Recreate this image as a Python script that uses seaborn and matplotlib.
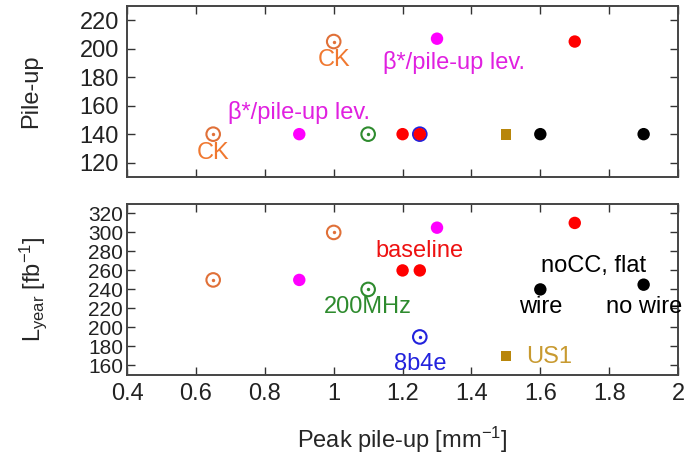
import pandas as pd
import matplotlib
matplotlib.use("Agg")
import matplotlib.pyplot as plt
import seaborn as sns

# ----- data -------------------------------------------------------------
# one entry per scenario: peak pile-up density, pile-up, integrated lumi/year
ck_x, ck_pu, ck_ly = [0.65, 1.0], [140, 205], [250, 300]
beta_x, beta_pu, beta_ly = [0.9, 1.3], [140, 207], [250, 305]
mhz_x, mhz_pu, mhz_ly = [1.1], [140], [240]
b4e_x, b4e_pu, b4e_ly = [1.25], [140], [190]
base_x, base_pu, base_ly = [1.2, 1.25, 1.7], [140, 140, 205], [260, 260, 310]
us1_x, us1_pu, us1_ly = [1.5], [140], [170]
nocc_x, nocc_pu, nocc_ly = [1.6, 1.9], [140, 140], [240, 245]

# labels: text, x, y, colour
top_labels = [
    ("CK", 0.65, 127, "#f07830"),
    ("CK", 1.0, 192, "#f07830"),
    ("β*/pile-up lev.", 0.9, 155, "#e020e0"),
    ("β*/pile-up lev.", 1.35, 190, "#e020e0"),
]
bottom_labels = [
    ("baseline", 1.25, 280, "#ee1111"),
    ("200MHz", 1.1, 221, "#2e8b2e"),
    ("8b4e", 1.25, 162, "#2222dd"),
    ("wire", 1.6, 222, "black"),
    ("no wire", 1.9, 222, "black"),
    ("noCC, flat", 1.755, 265, "black"),
]

sns.set_theme(style="ticks")
plt.rcParams["font.family"] = ["Liberation Sans", "DejaVu Sans"]
plt.rcParams["mathtext.fontset"] = "custom"
plt.rcParams["mathtext.rm"] = "Liberation Sans"
plt.rcParams["mathtext.it"] = "Liberation Sans:italic"

FS = 17

fig, (ax1, ax2) = plt.subplots(2, 1, figsize=(6.87, 4.55), dpi=100, sharex=True)
fig.subplots_adjust(left=0.185, right=0.987, top=0.987, bottom=0.176, hspace=0.158)


def draw(ax, col):
    df = pd.DataFrame({
        "x": ck_x + beta_x + mhz_x + b4e_x + base_x + us1_x + nocc_x,
        "y": col["ck"] + col["beta"] + col["mhz"] + col["b4e"] + col["base"] + col["us1"] + col["nocc"],
        "grp": (["ck"] * len(ck_x) + ["beta"] * len(beta_x) + ["mhz"] * len(mhz_x)
                + ["b4e"] * len(b4e_x) + ["base"] * len(base_x) + ["us1"] * len(us1_x)
                + ["nocc"] * len(nocc_x)),
    })
    # open circles with a centre dot
    for g, c in [("ck", "#e07038"), ("mhz", "#2e8b2e"), ("b4e", "#2222dd")]:
        d = df[df.grp == g]
        sns.scatterplot(data=d, x="x", y="y", ax=ax, marker="o", s=95,
                        facecolors="none", edgecolor=c, linewidth=1.5, zorder=3)
        sns.scatterplot(data=d, x="x", y="y", ax=ax, marker="o", s=6,
                        color=c, edgecolor=c, linewidth=0, zorder=3)
    for g, c in [("beta", "#ff00ff"), ("base", "#ff0000"), ("nocc", "black")]:
        d = df[df.grp == g]
        sns.scatterplot(data=d, x="x", y="y", ax=ax, marker="o", s=80,
                        color=c, edgecolor="none", zorder=4)
    d = df[df.grp == "us1"]
    sns.scatterplot(data=d, x="x", y="y", ax=ax, marker="s", s=60,
                    color="#b8860b", edgecolor="none", zorder=4)


draw(ax1, {"ck": ck_pu, "beta": beta_pu, "mhz": mhz_pu, "b4e": b4e_pu,
           "base": base_pu, "us1": us1_pu, "nocc": nocc_pu})
draw(ax2, {"ck": ck_ly, "beta": beta_ly, "mhz": mhz_ly, "b4e": b4e_ly,
           "base": base_ly, "us1": us1_ly, "nocc": nocc_ly})

for txt, x, y, c in top_labels:
    ax1.text(x, y, txt, color=c, fontsize=FS, ha="center", va="center")
for txt, x, y, c in bottom_labels:
    ax2.text(x, y, txt, color=c, fontsize=FS, ha="center", va="center")
ax2.text(us1_x[0] + 0.06, 169, "US1", color="#c89a30", fontsize=FS, ha="left", va="center")

ax1.set_xlim(0.4, 2.0)
ax1.set_ylim(110, 230)
ax1.set_yticks(range(120, 221, 20))
ax2.set_ylim(150, 330)
ax2.set_yticks(range(160, 321, 20))
ax2.set_xticks([0.4, 0.6, 0.8, 1.0, 1.2, 1.4, 1.6, 1.8, 2.0])
ax2.set_xticklabels(["0.4", "0.6", "0.8", "1", "1.2", "1.4", "1.6", "1.8", "2"])

ax1.set_xlabel("")
ax1.set_ylabel("Pile-up", fontsize=FS)
ax2.set_ylabel(r"L$_{\mathrm{year}}$ [fb$^{\mathrm{-1}}$]", fontsize=FS)
ax2.set_xlabel(r"Peak pile-up [mm$^{\mathrm{-1}}$]", fontsize=FS, labelpad=14)
ax1.yaxis.set_label_coords(-0.154, 0.5)
ax2.yaxis.set_label_coords(-0.141, 0.5)

for ax in (ax1, ax2):
    ax.tick_params(direction="in", top=True, right=True, length=6, width=1,
                   colors="#333333", labelcolor="#222222", labelsize=FS, pad=6)
    for sp in ax.spines.values():
        sp.set_visible(True)
        sp.set_linewidth(1.4)
        sp.set_color("#444444")
ax2.tick_params(axis="y", labelsize=15, pad=3)
ax1.tick_params(labelbottom=False)

plt.savefig("out.png", dpi=100)
plt.close()
